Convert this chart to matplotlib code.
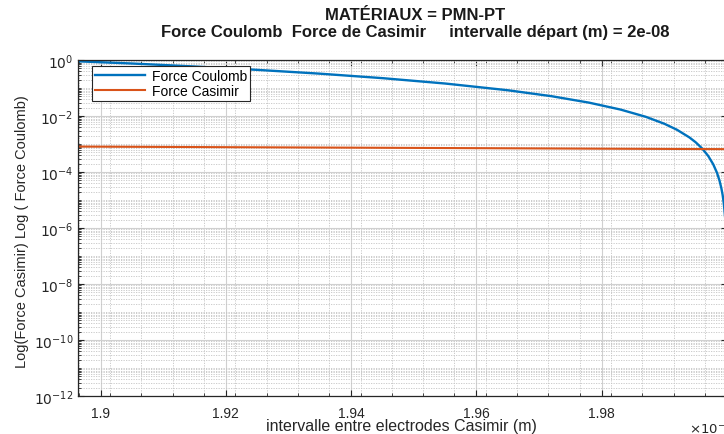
import numpy as np
import matplotlib
matplotlib.use("Agg")
import matplotlib.pyplot as plt
from matplotlib.ticker import FixedLocator, FuncFormatter, NullFormatter

plt.rcParams['font.family'] = ['Liberation Sans', 'DejaVu Sans']

# ---- data (x in metres) ----
x_coulomb = np.array([1.8965, 1.905, 1.915, 1.925, 1.935, 1.945, 1.955, 1.965,
                      1.972, 1.978, 1.983, 1.987, 1.990, 1.992, 1.994, 1.995,
                      1.996, 1.997, 1.9978, 1.9984, 1.9988, 1.9991, 1.9993,
                      1.9995, 1.9997, 1.9998, 1.9999]) * 1e-8
log_coulomb = np.array([-0.048, -0.125, -0.232, -0.352, -0.488, -0.648, -0.840, -1.080,
                        -1.293, -1.524, -1.770, -2.026, -2.277, -2.490, -2.765, -2.939,
                        -3.152, -3.427, -3.724, -4.028, -4.303, -4.578, -4.818,
                        -5.139, -5.627, -6.0, -6.677])
f_coulomb = 10.0 ** log_coulomb

x_casimir = np.array([1.8964, 1.92, 1.94, 1.96, 1.98, 2.0]) * 1e-8
f_casimir = np.array([8.1e-4, 7.7e-4, 7.4e-4, 7.1e-4, 6.8e-4, 6.55e-4])

xtick_vals = np.array([1.9, 1.92, 1.94, 1.96, 1.98, 2.0]) * 1e-8
xtick_labels = ['1.9', '1.92', '1.94', '1.96', '1.98', '2']
ytick_exps = [0, -2, -4, -6, -8, -10, -12]

series_names = ['Force Coulomb', 'Force Casimir']
title_line1 = 'MATÉRIAUX = PMN-PT'
title_line2 = 'Force Coulomb  Force de Casimir     intervalle départ (m) = 2e-08'
xlabel = 'intervalle entre electrodes Casimir (m)'
ylabel = 'Log(Force Casimir) Log ( Force Coulomb)'

W, H = 724, 435
fig = plt.figure(figsize=(W / 100, H / 100), dpi=100)
left, right, top, bottom = 78, 727, 61, 397
ax = fig.add_axes([left / W, (H - bottom) / H, (right - left) / W, (bottom - top) / H])

ax.plot(x_coulomb, f_coulomb, color='#0072BD', lw=1.7, label=series_names[0])
ax.plot(x_casimir, f_casimir, color='#D95319', lw=1.5, label=series_names[1])

ax.set_yscale('log')
ax.set_xlim(1.8964e-8, 2.0e-8)
ax.set_ylim(1e-12, 1e0)

ax.set_xticks(xtick_vals)
ax.set_xticklabels(xtick_labels)
minor_x = np.arange(1.8965, 2.0001, 0.005) * 1e-8
ax.xaxis.set_minor_locator(FixedLocator(minor_x))

ax.yaxis.set_major_locator(FixedLocator([10.0 ** e for e in ytick_exps]))
ax.yaxis.set_major_formatter(FuncFormatter(lambda v, p: r'$10^{%d}$' % int(round(np.log10(v)))))
minor_y = [m * 10.0 ** e for e in range(-12, 0) for m in range(1, 10) if not (m == 1 and e % 2 == 0)]
ax.yaxis.set_minor_locator(FixedLocator(minor_y))
ax.yaxis.set_minor_formatter(NullFormatter())

ax.grid(which='major', color='#d0d0d0', lw=0.8, ls='-')
ax.grid(which='minor', color='#c4c4c4', lw=0.6, ls=(0, (1.5, 1.5)))
ax.set_axisbelow(True)

for s in ax.spines.values():
    s.set_color('#262626')
    s.set_linewidth(0.9)
ax.tick_params(which='both', direction='in', top=True, right=True, colors='#262626',
               labelsize=10, labelcolor='#262626')
ax.tick_params(which='major', length=4)
ax.tick_params(which='minor', length=2)
ax.tick_params(axis='x', pad=7)

fig.text(415 / W, 1 - 15 / H, title_line1, ha='center', va='center', fontsize=12,
         fontweight='bold', color='#1a1a1a')
fig.text(415 / W, 1 - 33 / H, title_line2, ha='center', va='center', fontsize=12,
         fontweight='bold', color='#1a1a1a')
fig.text(401 / W, 1 - 427 / H, xlabel, ha='center', va='center', fontsize=11.5, color='#262626')
fig.text(22 / W, 1 - 232 / H, ylabel, ha='center', va='center', rotation=90, fontsize=10.5,
         color='#262626')
fig.text(689 / W, 1 - 429 / H, r'$\times 10^{-8}$', ha='left', va='center', fontsize=9.5,
         color='#262626')

leg = ax.legend(loc='upper left', bbox_to_anchor=((92 - left) / (right - left), 1 - (67 - top) / (bottom - top)),
                fontsize=10, frameon=True, fancybox=False, edgecolor='#262626',
                borderpad=0.2, labelspacing=0.1, handlelength=3.6, handletextpad=0.5,
                borderaxespad=0)
leg.get_frame().set_linewidth(0.8)
leg.get_frame().set_alpha(1)

fig.savefig('out.png', dpi=100)
